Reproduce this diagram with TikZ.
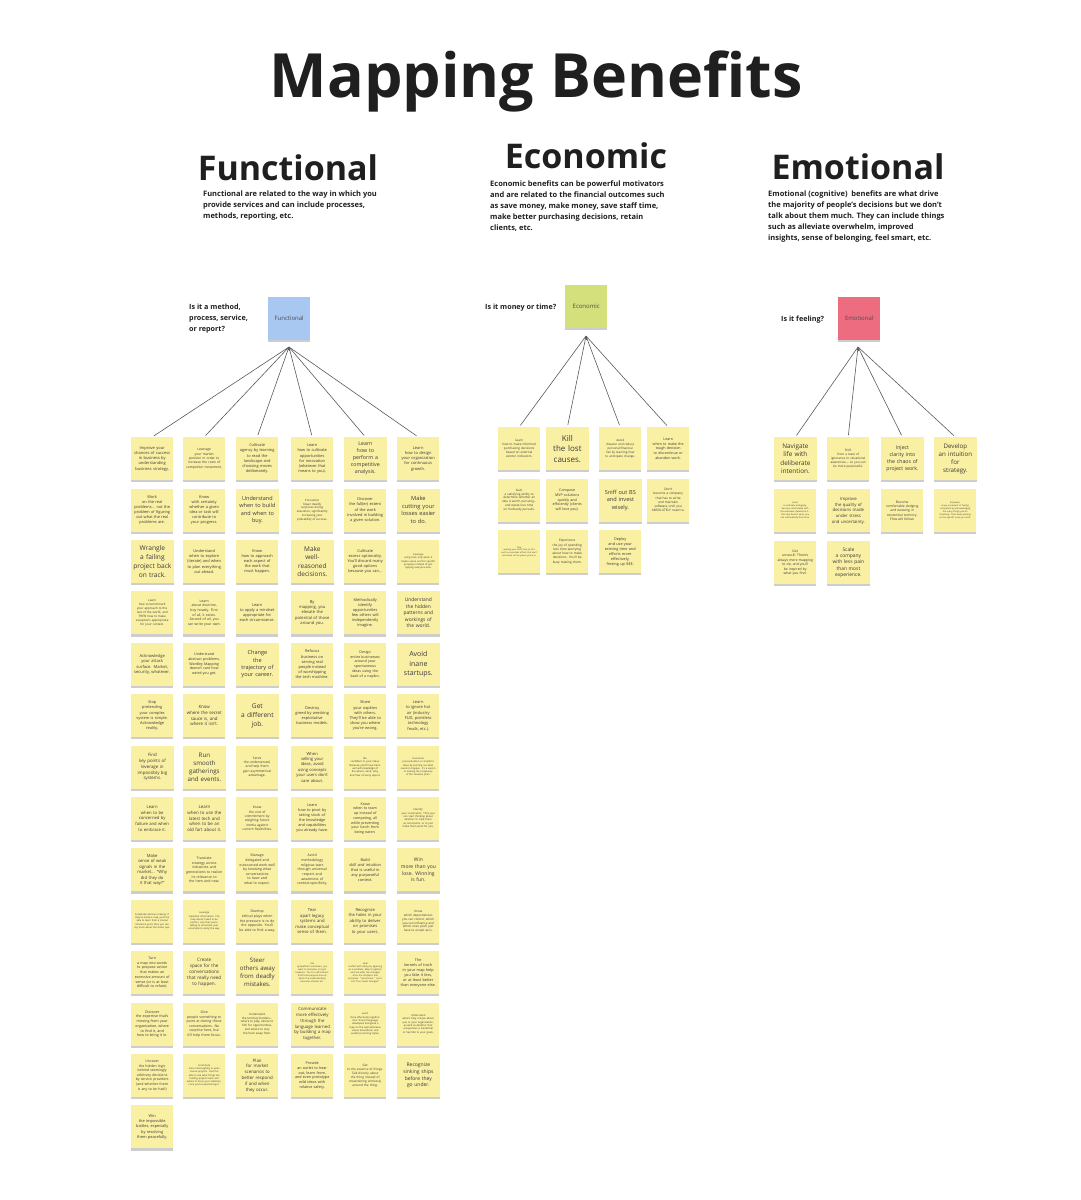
\documentclass[tikz,border=0pt]{standalone}
\usepackage{fontspec}
\setmainfont{Open Sans}
\usetikzlibrary{shadows,arrows.meta}
\definecolor{noteY}{HTML}{FAF0A4}
\definecolor{noteB}{HTML}{A8C8F2}
\definecolor{noteG}{HTML}{D4E07C}
\definecolor{noteR}{HTML}{EE6C80}
\definecolor{inktxt}{HTML}{3A3A3A}
\definecolor{fanline}{HTML}{5A5A5A}
\begin{document}
\begin{tikzpicture}[x=1pt,y=-1pt,
  fs/.style={font=\fontsize{#1}{\fpeval{1.32*#1}}\selectfont},
  sticky/.style={rectangle, anchor=north west, minimum width=42pt, minimum height=43pt,
    inner sep=1.2pt, text width=36pt, align=center, fill=noteY, text=inktxt,
    execute at begin node={\hyphenpenalty=10000},
    drop shadow={shadow xshift=0pt, shadow yshift=-2.2pt, opacity=.28, fill=black!70}},
  bigtxt/.style={text width=40pt},
  topnote/.style={sticky, fs=6, text=black!70},
  heading/.style={font=\fontsize{34}{40}\selectfont\bfseries, text=black!88, anchor=base},
  blurb/.style={font=\fontsize{7.5}{11}\selectfont\bfseries, text=black!88, align=left, anchor=north west, inner sep=0pt},
  question/.style={font=\fontsize{7.2}{11}\selectfont\bfseries, text=black!88, align=left, inner sep=0pt},
  fan/.style={draw=fanline, line width=.6pt, shorten <=2pt},
  fantip/.style={draw=fanline, line width=.6pt, -{Latex[length=3.2pt,width=3pt]}}
]
\useasboundingbox (0,0) rectangle (1081,1200);
\fill[white] (0,0) rectangle (1081,1200);

% ---------- title and section headings ----------
\node[font=\fontsize{61}{70}\selectfont\bfseries, text=black!88, anchor=base] (title) at (536,97) {Mapping Benefits};
\node[heading] (hfun) at (288,180) {Functional};
\node[heading] (heco) at (586,168) {Economic};
\node[heading] (hemo) at (858,179) {Emotional};

\node[blurb] (dfun) at (203,191) {Functional are related to the way in which you\\provide services and can include processes,\\methods, reporting, etc.};
\node[blurb] (deco) at (490,181) {Economic benefits can be powerful motivators\\and are related to the financial outcomes such\\as save money, make money, save staff time,\\make better purchasing decisions, retain\\clients, etc.};
\node[blurb] (demo) at (768,191) {Emotional (cognitive)\ \ benefits are what drive\\the majority of people’s decisions but we don’t\\talk about them much. They can include things\\such as alleviate overwhelm, improved\\insights, sense of belonging, feel smart, etc.};

% ---------- category notes ----------
\node[topnote, fill=noteB] (fun) at (268,297) {Functional};
\node[topnote, fill=noteG] (eco) at (565,285) {Economic};
\node[topnote, fill=noteR] (emo) at (838,297) {Emotional};

\node[question, anchor=north west] (qfun) at (189,304) {Is it a method,\\process, service,\\or report?};
\node[question, anchor=west] (qeco) at (485,308) {Is it money or time?};
\node[question, anchor=west] (qemo) at (781,320) {Is it feeling?};

\coordinate (fj) at (289,347);
\coordinate (ej) at (586,336);
\coordinate (mj) at (858,347);

% ---------- Functional notes (six columns) ----------
% column 1
\node[sticky, fs=4.0] (f1a) at (131,437+0*51.4) {Improve your chances of success in business by understanding business strategy.};
\node[sticky, fs=3.9] (f1b) at (131,437+1*51.4) {Work\\ on the real problems... not the problem of figuring out what the real problems are.};
\node[sticky, bigtxt, fs=6.6] (f1c) at (131,437+2*51.4) {Wrangle\\ a failing\\ project back\\ on track.};
\node[sticky, fs=3.0] (f1d) at (131,437+3*51.4) {Learn\\ how to benchmark your approach to the rest of the world, and THEN how to make exceptions appropriate for your context.};
\node[sticky, fs=4.1] (f1e) at (131,437+4*51.4) {Acknowledge your attack surface. Market, security, whatever.};
\node[sticky, fs=3.9] (f1f) at (131,437+5*51.4) {Stop\\ pretending your complex system is simple. Acknowledge reality.};
\node[sticky, bigtxt, fs=4.4] (f1g) at (131,437+6*51.4) {Find\\ key points of\\ leverage in\\ impossibly big\\ systems.};
\node[sticky, fs=4.2] (f1h) at (131,437+7*51.4) {Learn\\ when to be concerned by failure and when to embrace it.};
\node[sticky, fs=4.2] (f1i) at (131,437+8*51.4) {Make\\ sense of weak signals in the market... “Why did they do it that way?”};
\node[sticky, fs=2.4] (f1j) at (131,437+9*51.4) {Accelerate decision-making. If they’ve made a map, you’ll be able to learn from a shared reference point, then you can say more about the status quo.};
\node[sticky, fs=3.6] (f1k) at (131,437+10*51.4) {Turn\\ a map into words to propose action that makes an excessive amount of sense (or is at least difficult to refute).};
\node[sticky, fs=3.6] (f1l) at (131,437+11*51.4) {Discover\\ the expertise that’s missing from your organization, where to find it, and how to bring it in.};
\node[sticky, fs=3.5] (f1m) at (131,437+12*51.4) {Uncover\\ the hidden logic behind seemingly arbitrary decisions by service providers (and whether there is any to be had!)};
\node[sticky, fs=3.9] (f1n) at (131,437+13*51.4) {Win\\ the impossible battles, especially by resolving them peacefully.};
% column 2
\node[sticky, fs=3.3] (f2a) at (183,437+0*51.4) {Leverage\\ your market position in order to increase the costs of competitor movement.};
\node[sticky, fs=3.9] (f2b) at (183,437+1*51.4) {Know\\ with certainty whether a given idea or task will contribute to your progress.};
\node[sticky, fs=3.9] (f2c) at (183,437+2*51.4) {Understand\\ when to explore (iterate) and when to plan everything out ahead.};
\node[sticky, fs=3.5] (f2d) at (183,437+3*51.4) {Learn\\ about doctrine, boy howdy. First of all, it exists. Second of all, you can write your own.};
\node[sticky, fs=3.6] (f2e) at (183,437+4*51.4) {Understand\\ abstract problems. Wardley Mapping doesn’t care how weird you get.};
\node[sticky, fs=4.4] (f2f) at (183,437+5*51.4) {Know\\ where the secret sauce is, and where it isn’t.};
\node[sticky, bigtxt, fs=6.2] (f2g) at (183,437+6*51.4) {Run\\ smooth\\ gatherings\\ and events.};
\node[sticky, bigtxt, fs=4.4] (f2h) at (183,437+7*51.4) {Learn\\ when to use the\\ latest tech and\\ when to be an\\ old fart about it.};
\node[sticky, fs=3.5] (f2i) at (183,437+8*51.4) {Translate\\ strategy across industries and generations to realize its relevance to the here and now.};
\node[sticky, fs=2.4] (f2j) at (183,437+9*51.4) {Leverage\\ imperfect information. The map doesn’t need to be perfect, only that you’re willing to document your assumptions along the way.};
\node[sticky, fs=4.6] (f2k) at (183,437+10*51.4) {Create\\ space for the conversations that really need to happen.};
\node[sticky, fs=3.5] (f2l) at (183,437+11*51.4) {Give\\ people something to point at during those conversations. No surprise here, but it’ll help them focus.};
\node[sticky, fs=2.4] (f2m) at (183,437+12*51.4) {Contribute\\ more meaningfully to open source projects. You’ll be able to see what things are holding projects back and where to focus your attention, once you’re experiencing it.};
% column 3
\node[sticky, fs=3.9] (f3a) at (236,437+0*51.4) {Cultivate\\ agency by learning to read the landscape and choosing moves deliberately.};
\node[sticky, bigtxt, fs=5.5] (f3b) at (236,437+1*51.4) {Understand\\ when to build\\ and when to\\ buy.};
\node[sticky, fs=3.9] (f3c) at (236,437+2*51.4) {Know\\ how to approach each aspect of the work that must happen.};
\node[sticky, fs=3.9] (f3d) at (236,437+3*51.4) {Learn\\ to apply a mindset appropriate for each circumstance.};
\node[sticky, bigtxt, fs=5.6] (f3e) at (236,437+4*51.4) {Change\\ the\\ trajectory of\\ your career.};
\node[sticky, bigtxt, fs=6.6] (f3f) at (236,437+5*51.4) {Get\\ a different\\ job.};
\node[sticky, fs=3.3] (f3g) at (236,437+6*51.4) {Serve\\ the underserved, and help them gain asymmetrical advantage.};
\node[sticky, fs=3.3] (f3h) at (236,437+7*51.4) {Know\\ the cost of commitment by weighing future inertia against current flexibilities.};
\node[sticky, fs=3.5] (f3i) at (236,437+8*51.4) {Manage\\ delegated and outsourced work well by knowing what conversations to have and what to expect.};
\node[sticky, fs=3.5] (f3j) at (236,437+9*51.4) {Develop\\ ethical plays when the pressure is to do the opposite. You’ll be able to find a way.};
\node[sticky, bigtxt, fs=6.1] (f3k) at (236,437+10*51.4) {Steer\\ others away\\ from deadly\\ mistakes.};
\node[sticky, fs=2.9] (f3l) at (236,437+11*51.4) {Understand\\ the territory borders... where to play, where to fish for opportunities, and where to stay the heck away from.};
\node[sticky, fs=4.4] (f3m) at (236,437+12*51.4) {Plan\\ for market scenarios to better respond if and when they occur.};
% column 4
\node[sticky, fs=3.9] (f4a) at (291,437+0*51.4) {Learn\\ how to cultivate opportunities for innovation (whatever that means to you).};
\node[sticky, fs=2.9] (f4b) at (291,437+1*51.4) {Encounter\\ fewer deadly surprises during execution, significantly increasing your probability of success.};
\node[sticky, bigtxt, fs=6.5] (f4c) at (291,437+2*51.4) {Make\\ well-\\ reasoned\\ decisions.};
\node[sticky, fs=4.1] (f4d) at (291,437+3*51.4) {By\\ mapping, you elevate the potential of those around you.};
\node[sticky, fs=3.9] (f4e) at (291,437+4*51.4) {Refocus\\ business on serving real people instead of worshipping the tech machine.};
\node[sticky, fs=3.9] (f4f) at (291,437+5*51.4) {Destroy\\ greed by wrecking exploitative business models.};
\node[sticky, fs=4.1] (f4g) at (291,437+6*51.4) {When\\ selling your ideas, avoid using concepts your users don’t care about.};
\node[sticky, fs=3.8] (f4h) at (291,437+7*51.4) {Learn\\ how to pivot by taking stock of the knowledge and capabilities you already have.};
\node[sticky, fs=3.5] (f4i) at (291,437+8*51.4) {Avoid\\ methodology religious wars through universal respect and awareness of context-specificity.};
\node[sticky, fs=4.2] (f4j) at (291,437+9*51.4) {Tear\\ apart legacy systems and make conceptual sense of them.};
\node[sticky, fs=2.3] (f4k) at (291,437+10*51.4) {Use\\ sympathetic narratives: you want to motivate, not just measure. Tie it to self-interest. Profit and purpose line up when the understanding becomes shared, etc.};
\node[sticky, bigtxt, fs=4.3] (f4l) at (291,437+11*51.4) {Communicate\\ more effectively\\ through the\\ language learned\\ by building a map\\ together.};
\node[sticky, fs=3.7] (f4m) at (291,437+12*51.4) {Provide\\ an outlet to hear out, learn from, and even prototype wild ideas with relative safety.};
% column 5
\node[sticky, bigtxt, fs=5.3] (f5a) at (344,437+0*51.4) {Learn\\ how to\\ perform a\\ competitive\\ analysis.};
\node[sticky, fs=3.9] (f5b) at (344,437+1*51.4) {Discover\\ the full(er) extent of the work involved in building a given solution.};
\node[sticky, fs=3.9] (f5c) at (344,437+2*51.4) {Cultivate\\ excess optionality. You’ll discard many good options because you can...};
\node[sticky, fs=3.9] (f5d) at (344,437+3*51.4) {Methodically identify opportunities few others will independently imagine.};
\node[sticky, fs=3.6] (f5e) at (344,437+4*51.4) {Design\\ entire businesses around your spontaneous ideas using the back of a napkin.};
\node[sticky, fs=3.9] (f5f) at (344,437+5*51.4) {Share\\ your napkins with others. They’ll be able to show you where you’re wrong.};
\node[sticky, fs=2.6] (f5g) at (344,437+6*51.4) {Be\\ confident in your ideas. Because you’ll have hard-earned knowledge of the where, what, why, and how of every aspect.};
\node[sticky, fs=3.6] (f5h) at (344,437+7*51.4) {Know\\ when to team up instead of competing, all while preventing your lunch from being eaten.};
\node[sticky, fs=3.9] (f5i) at (344,437+8*51.4) {Build\\ skill and intuition that is useful in any purposeful context.};
\node[sticky, fs=4.1] (f5j) at (344,437+9*51.4) {Recognize\\ the holes in your ability to deliver on promises to your users.};
\node[sticky, fs=2.3] (f5k) at (344,437+10*51.4) {Heal\\ conflict with clarity by agreeing on a problem. Map it together and see what has changed since the old plans and promises. “I promised...” turns into “Our needs changed.”};
\node[sticky, fs=2.5] (f5l) at (344,437+11*51.4) {Learn\\ more effectively together. Your shared language developed alongside a map on the wall embraces visual, kinesthetic, and auditory learning styles.};
\node[sticky, fs=3.1] (f5m) at (344,437+12*51.4) {Get\\ to the essence of things. Talk directly about the thing instead of meandering aimlessly around the thing.};
% column 6
\node[sticky, fs=4.0] (f6a) at (397,437+0*51.4) {Learn\\ how to design your organization for continuous growth.};
\node[sticky, bigtxt, fs=5.7] (f6b) at (397,437+1*51.4) {Make\\ cutting your\\ losses easier\\ to do.};
\node[sticky, fs=2.5] (f6c) at (397,437+2*51.4) {Leverage\\ using tools only when it makes sense and for specific purposes instead of just copying everyone else.};
\node[sticky, bigtxt, fs=4.9] (f6d) at (397,437+3*51.4) {Understand\\ the hidden\\ patterns and\\ workings of\\ the world.};
\node[sticky, bigtxt, fs=7.0] (f6e) at (397,437+4*51.4) {Avoid\\ inane\\ startups.};
\node[sticky, fs=4.0] (f6f) at (397,437+5*51.4) {Learn\\ to ignore hot air (industry FUD, pointless technology feuds, etc.).};
\node[sticky, fs=2.4] (f6g) at (397,437+6*51.4) {Overcome\\ procrastination or simplistic ideas by pointing out what needs to happen. It’s a lead-in to making the complexity of the situation plain.};
\node[sticky, fs=2.6] (f6h) at (397,437+7*51.4) {Identify\\ your constraints. Then you can start thinking about whether to treat them as constraints, or to just make them work for you.};
\node[sticky, bigtxt, fs=5.0] (f6i) at (397,437+8*51.4) {Win\\ more than you\\ lose. Winning\\ is fun.};
\node[sticky, fs=3.0] (f6j) at (397,437+9*51.4) {Know\\ which dependencies you can control, which you can influence and which ones you’ll just have to accept as-is.};
\node[sticky, fs=3.8] (f6k) at (397,437+10*51.4) {The\\ kernels of truth in your map help you fake it less, or at least better than everyone else.};
\node[sticky, fs=2.6] (f6l) at (397,437+11*51.4) {Understand\\ what’s truly unique about you or your organization, as well as whether that uniqueness is beneficial or harmful to your goals.};
\node[sticky, bigtxt, fs=5.0] (f6m) at (397,437+12*51.4) {Recognize\\ sinking ships\\ before they\\ go under.};

% ---------- Economic notes ----------
\node[sticky, fs=3.1] (e1a) at (498,427) {Learn\\ how to make informed purchasing decisions based on external vendor indicators.};
\node[sticky, bigtxt, fs=8.0] (e2a) at (546,427) {Kill\\ the lost\\ causes.};
\node[sticky, fs=3.0] (e3a) at (599,427) {Avoid\\ disaster and reduce personal/financial risk by learning how to anticipate change.};
\node[sticky, fs=3.6] (e4a) at (647,427) {Learn\\ when to make the tough decision to discontinue or abandon work.};
\node[sticky, fs=3.0] (e1b) at (498,478.5) {Gain\\ a satisfying ability to determine whether an idea is worth pursuing... and waste less time on foolhardy pursuits.};
\node[sticky, fs=3.6] (e2b) at (546,478.5) {Compose\\ MVP solutions quickly and efficiently (clients will love you).};
\node[sticky, bigtxt, fs=5.6] (e3b) at (599,478.5) {Sniff out BS\\ and invest\\ wisely.};
\node[sticky, fs=3.2] (e4b) at (647,478.5) {Don’t\\ become a company that has to write and maintain software until you ABSOLUTELY need to.};
\node[sticky, fs=2.1] (e1c) at (498,530) {Stop\\ wasting your short time on this earth on pointless efforts that don’t contribute to the system you’re in.};
\node[sticky, fs=3.2] (e2c) at (546,530) {Experience\\ the joy of spending less time worrying about how to make decisions. You’ll be busy making them.};
\node[sticky, fs=3.8] (e3c) at (599,530) {Deploy\\ and use your existing time and efforts more effectively, freeing up \$\$\$.};

% ---------- Emotional notes ----------
\node[sticky, bigtxt, fs=6.4] (m1a) at (774,437) {Navigate\\ life with\\ deliberate\\ intention.};
\node[sticky, fs=3.1] (m2a) at (827,437) {Shift\\ from a state of ignorance to situational awareness... so you can be more purposeful.};
\node[sticky, bigtxt, fs=5.2] (m3a) at (881,437) {Inject\\ clarity into\\ the chaos of\\ project work.};
\node[sticky, bigtxt, fs=6.2] (m4a) at (934,437) {Develop\\ an intuition\\ for\\ strategy.};
\node[sticky, fs=2.2] (m1b) at (774,489) {Learn\\ to embrace ambiguity, become comfortable with the unknown; determine if... this idea doesn’t work, you can methodically find more.};
\node[sticky, bigtxt, fs=4.3] (m2b) at (827,489) {Improve\\ the quality of\\ decisions made\\ under stress\\ and uncertainty.};
\node[sticky, fs=3.3] (m3b) at (881,489) {Become\\ comfortable dodging and weaving in existential territory. Flow will follow.};
\node[sticky, fs=2.2] (m4b) at (934,489) {Empower,\\ enjoy a moment of feeling competent by acknowledging the many things you do intuitively. Then keep working on the specific ones you don’t.};
\node[sticky, fs=3.4] (m1c) at (774,541) {Get\\ unstuck! There’s always more mapping to do, and you’ll be inspired by what you find.};
\node[sticky, bigtxt, fs=4.9] (m2c) at (827,541) {Scale\\ a company\\ with less pain\\ than most\\ experience.};

% ---------- fan connectors ----------
\foreach \n in {f1a,f2a,f3a,f4a,f5a,f6a} \draw[fan] (\n.north) -- (fj);
\foreach \n in {e1a,e2a,e3a,e4a} \draw[fan] (\n.north) -- (ej);
\foreach \n in {m1a,m2a,m3a,m4a} \draw[fan] (\n.north) -- (mj);
\draw[fantip] (289,349.5) -- (fj);
\draw[fantip] (586,338.5) -- (ej);
\draw[fantip] (858,349.5) -- (mj);
\end{tikzpicture}
\end{document}
